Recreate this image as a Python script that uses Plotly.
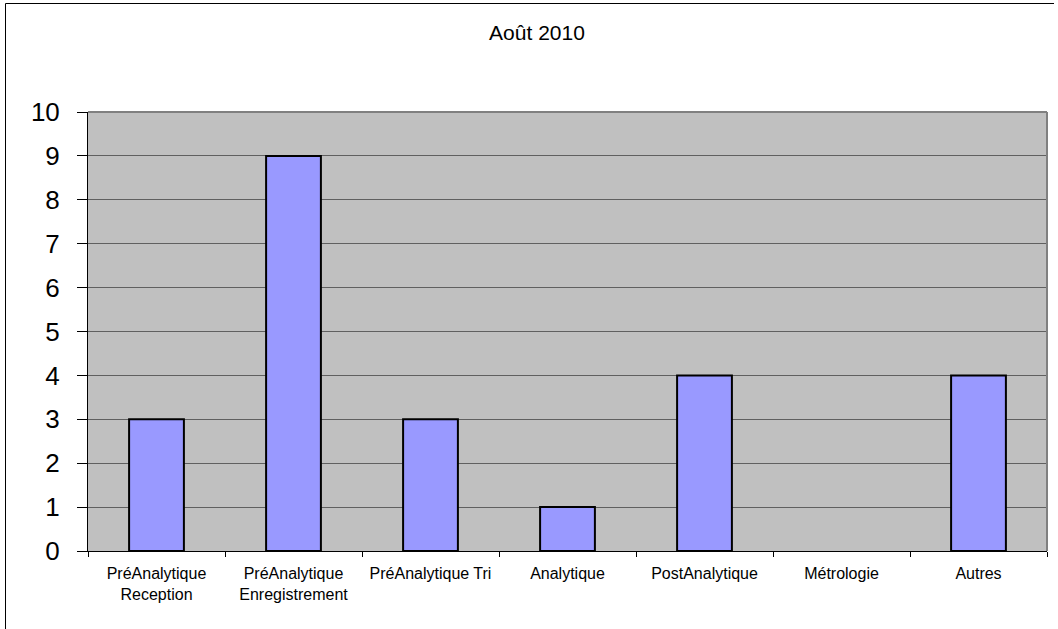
import plotly.graph_objects as go

categories = [
    "PréAnalytique<br>Reception",
    "PréAnalytique<br>Enregistrement",
    "PréAnalytique Tri",
    "Analytique",
    "PostAnalytique",
    "Métrologie",
    "Autres",
]
counts = [3, 9, 3, 1, 4, 0, 4]
y_ticks = list(range(0, 11))

W, H = 1058, 629
L, R, T, B = 88, 11, 112, 78
pw, ph = W - L - R, H - T - B


def px_x(px):
    return (px - L) / pw


def px_y(py):
    return (H - B - py) / ph


# empty categories get no outline so a zero bar stays invisible
outline_widths = [2 if v > 0 else 0 for v in counts]

fig = go.Figure(
    go.Bar(
        x=categories,
        y=counts,
        width=0.4,
        marker=dict(color="#9999FF", line=dict(color="#000000", width=outline_widths)),
        hoverinfo="x+y",
    )
)

font = "Liberation Sans, Arial, sans-serif"

fig.update_layout(
    width=W,
    height=H,
    margin=dict(l=L, r=R, t=T, b=B, pad=0),
    paper_bgcolor="#FFFFFF",
    plot_bgcolor="#C0C0C0",
    showlegend=False,
    bargap=0.6,
    title=dict(
        text="Août 2010",
        x=px_x(537) * pw / W + L / W,
        xanchor="center",
        y=1 - 33 / H,
        yanchor="middle",
        font=dict(family=font, size=21, color="#000000"),
    ),
    xaxis=dict(
        type="category",
        showgrid=False,
        showline=True,
        linecolor="#000000",
        linewidth=1,
        ticks="outside",
        tickson="boundaries",
        ticklen=5,
        tickcolor="#000000",
        tickfont=dict(family=font, size=16, color="#000000"),
        ticklabelstandoff=8,
        zeroline=False,
    ),
    yaxis=dict(
        range=[0, 10],
        tickvals=y_ticks,
        showgrid=True,
        gridcolor="#606060",
        gridwidth=1,
        showline=True,
        linecolor="#000000",
        linewidth=1,
        ticks="outside",
        ticklen=10,
        tickcolor="#000000",
        tickfont=dict(family=font, size=26, color="#000000"),
        ticklabelstandoff=12,
        zeroline=False,
    ),
    shapes=[
        # plot-area frame: top and right edges in gray
        dict(type="line", xref="paper", yref="paper", x0=0, x1=1, y0=1, y1=1,
             line=dict(color="#808080", width=2)),
        dict(type="line", xref="paper", yref="paper", x0=1, x1=1, y0=0, y1=1,
             line=dict(color="#808080", width=2)),
        # outer chart border (top and left edges)
        dict(type="line", xref="paper", yref="paper",
             x0=px_x(5.5), x1=px_x(1054), y0=px_y(3.5), y1=px_y(3.5),
             line=dict(color="#000000", width=1), layer="above"),
        dict(type="line", xref="paper", yref="paper",
             x0=px_x(5.5), x1=px_x(5.5), y0=px_y(3.5), y1=px_y(640),
             line=dict(color="#000000", width=1), layer="above"),
    ],
)

fig.write_html("out.html")
